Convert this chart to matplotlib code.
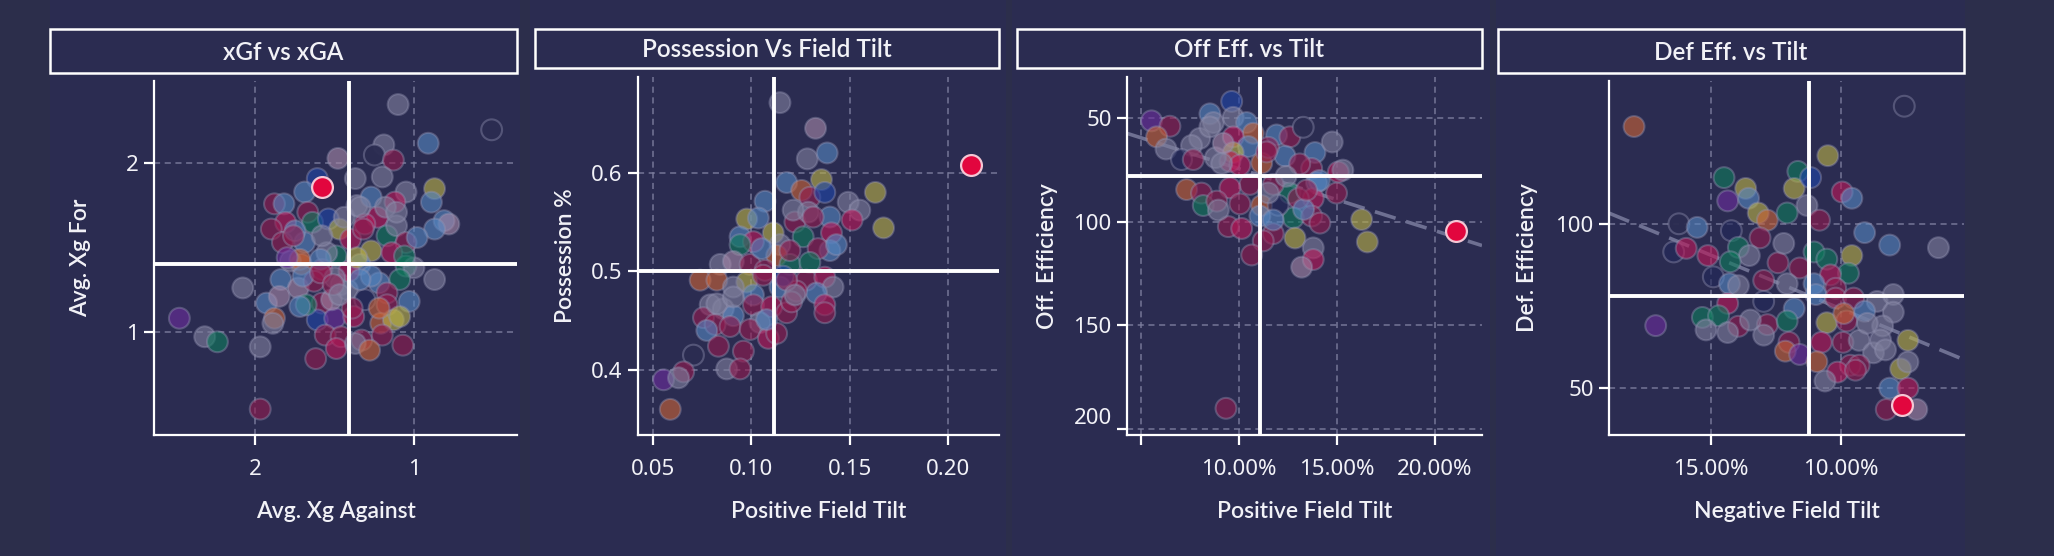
import matplotlib
matplotlib.use("Agg")
import matplotlib.pyplot as plt
from matplotlib.patches import Rectangle
from matplotlib.colors import to_rgba
import numpy as np

plt.rcParams['font.family'] = ['Noto Sans', 'DejaVu Sans']
BOLD_FAMILY = ['Lato', 'Open Sans', 'Noto Sans', 'DejaVu Sans']

# ---------------- data ----------------
titles = ["xGf vs xGA", "Possession Vs Field Tilt", "Off Eff. vs Tilt", "Def Eff. vs Tilt"]
xlabels = ["Avg. Xg Against", "Positive Field Tilt", "Positive Field Tilt", "Negative Field Tilt"]
ylabels = ["Avg. Xg For", "Possession %", "Off. Efficiency", "Def. Efficiency"]

p1_xga = [1.10, 0.51, 0.91, 1.48, 1.19, 1.25, 1.13, 1.61, 1.37, 1.20, 0.87, 1.05, 1.12, 0.89, 0.81, 0.78, 0.87,
          1.88, 1.82, 1.69, 1.67, 1.81, 1.90, 1.64, 1.54, 1.47, 1.40, 1.36, 1.27, 1.23, 1.17, 1.11, 1.05, 0.98,
          1.27, 1.14, 1.83, 1.69, 1.49, 1.71, 1.58, 1.34, 1.05, 1.00, 0.87, 1.09, 1.84, 2.08, 1.73, 1.46, 1.42,
          1.22, 1.17, 1.31, 1.03, 1.93, 1.58, 1.17, 1.88, 1.89, 1.61, 1.50, 1.38, 1.21, 1.13, 1.56, 1.46, 1.33,
          1.20, 1.07, 1.49, 1.37, 1.28, 1.62, 2.48, 2.32, 2.24, 1.97, 1.97,
          1.55, 1.41, 1.50, 1.63, 1.27, 1.36, 1.78, 1.52, 1.39, 1.68, 1.22, 1.44, 1.31, 1.18, 1.75,
          1.76, 1.58, 1.72, 1.80, 1.59, 1.11, 1.34, 1.06, 1.32, 1.70, 1.59, 1.51, 1.85, 1.72, 1.47, 1.09, 1.34]
p1_xgf = [2.35, 2.20, 2.12, 2.03, 2.11, 2.05, 2.02, 1.91, 1.91, 1.92, 1.85, 1.83, 1.77, 1.77, 1.66, 1.64, 1.61,
          1.76, 1.76, 1.83, 1.71, 1.65, 1.61, 1.65, 1.67, 1.61, 1.55, 1.75, 1.80, 1.68, 1.57, 1.63, 1.53, 1.56,
          1.48, 1.47, 1.53, 1.53, 1.45, 1.40, 1.37, 1.40, 1.39, 1.38, 1.31, 1.31, 1.31, 1.26, 1.26, 1.28, 1.25,
          1.29, 1.23, 1.19, 1.18, 1.17, 1.17, 1.16, 1.08, 1.05, 1.07, 1.08, 1.09, 1.05, 1.07, 0.98, 0.97, 0.95,
          0.98, 0.92, 0.90, 0.93, 0.89, 0.84, 1.08, 0.97, 0.94, 0.91, 0.54,
          1.47, 1.36, 1.32, 1.30, 1.33, 1.44, 1.42, 1.19, 1.14, 1.16, 1.14, 1.68, 1.64, 1.74, 1.60,
          1.57, 1.57, 1.43, 1.44, 1.43, 1.71, 1.74, 1.45, 1.61, 1.33, 1.35, 1.28, 1.21, 1.15, 1.22, 1.09, 1.31]
p1_team = list("AHBKAHMDAAYARBBKB" "MBBMRMGDYRABRGAMB" "YRMBGORBGAAGBAKAA" "BMNBBMMOADPROYMMM"
               "MMRAOMPAGAM" "ARAMBYAKMGOARAB" "MAOPBAAGMBMMKBAYB")
p1_hl = (1.58, 1.86)
p1_mean = (1.41, 1.40)

p2_tilt = [0.1146, 0.1327, 0.1285, 0.1386, 0.1357, 0.1180, 0.1256, 0.1298, 0.1374, 0.1070, 0.1631, 0.1493,
           0.1552, 0.1513, 0.1673, 0.0977, 0.1036, 0.0943, 0.1011, 0.0943, 0.1112, 0.1222, 0.1264, 0.1400,
           0.1408, 0.1400, 0.1340, 0.1146, 0.1129, 0.0842, 0.0909, 0.0994, 0.1070, 0.1197, 0.1298, 0.0740,
           0.0825, 0.0977, 0.1061, 0.1146, 0.1280, 0.1374, 0.1416, 0.1332, 0.1230, 0.0909, 0.1011, 0.0791,
           0.0858, 0.1011, 0.1104, 0.1180, 0.1374, 0.1374, 0.0757, 0.0909, 0.1044, 0.0816, 0.0892, 0.0994,
           0.0774, 0.1087, 0.1129, 0.0833, 0.0960, 0.0706, 0.0875, 0.0943, 0.0656, 0.0554, 0.0630, 0.0588,
           0.1078, 0.1163, 0.1205, 0.1290, 0.1433,
           0.1053, 0.1213, 0.1315, 0.1197, 0.0825, 0.0909, 0.1180, 0.1222]
p2_poss = [0.671, 0.645, 0.614, 0.620, 0.593, 0.590, 0.582, 0.575, 0.580, 0.571, 0.580, 0.570,
           0.562, 0.552, 0.544, 0.553, 0.554, 0.535, 0.530, 0.527, 0.539, 0.550, 0.535, 0.555,
           0.539, 0.521, 0.523, 0.527, 0.516, 0.507, 0.510, 0.507, 0.501, 0.507, 0.509, 0.491,
           0.491, 0.489, 0.496, 0.484, 0.491, 0.494, 0.484, 0.478, 0.480, 0.484, 0.476, 0.466,
           0.462, 0.466, 0.464, 0.458, 0.466, 0.458, 0.453, 0.455, 0.448, 0.446, 0.444, 0.441,
           0.440, 0.432, 0.437, 0.424, 0.419, 0.415, 0.401, 0.401, 0.398, 0.390, 0.392, 0.360,
           0.451, 0.495, 0.469, 0.560, 0.527,
           0.523, 0.562, 0.555, 0.521, 0.467, 0.474, 0.491, 0.476]
p2_team = list("AKABYBOMDBYA" "ARYYBBRGYMGB" "RBMAOAKMMGGO" "OYMBMRABMABA" "AMRMRMMBAMMM"
               "BRMMMHAMMPAO" "BDMAB" "BAMMAAMA")
p2_hl = (0.2118, 0.608)
p2_mean = (0.1117, 0.500)

p3_tilt = [0.0963, 0.0554, 0.0648, 0.0580, 0.0628, 0.0852, 0.0870, 0.0971, 0.1039, 0.1073, 0.0971, 0.0800,
           0.0758, 0.1048, 0.0971, 0.0707, 0.0767, 0.0954, 0.1116, 0.1192, 0.1260, 0.1328, 0.1235, 0.1388,
           0.1476, 0.1371, 0.1507, 0.1530, 0.1396, 0.1498, 0.1260, 0.1379, 0.1303, 0.1175, 0.1056, 0.0954,
           0.0733, 0.0809, 0.0818, 0.1005, 0.1116, 0.0887, 0.1107, 0.1277, 0.1371, 0.1413, 0.1626, 0.1655,
           0.0946, 0.1014, 0.1175, 0.1124, 0.1286, 0.1379, 0.1379, 0.1320, 0.1065, 0.0934, 0.1200, 0.1150,
           0.1310, 0.1410, 0.1240, 0.1330, 0.0880, 0.0920, 0.1150,
           0.0852, 0.1005, 0.0912, 0.1141, 0.0895, 0.1345, 0.1175]
p3_eff = [41.8, 51.2, 53.8, 58.9, 64.8, 47.8, 52.0, 49.5, 52.0, 57.2, 58.9, 59.7,
          63.1, 63.6, 66.5, 69.9, 69.9, 70.8, 71.6, 58.0, 58.9, 54.3, 68.2, 66.5,
          61.4, 74.2, 75.9, 75.0, 81.0, 86.1, 86.1, 88.7, 88.7, 81.9, 81.9, 83.6,
          84.4, 86.1, 92.1, 91.3, 92.1, 90.0, 97.2, 98.1, 97.2, 100.6, 98.9, 109.7,
          102.3, 103.2, 105.7, 109.2, 107.8, 112.6, 118.2, 121.9, 116.0, 190.1, 92.0, 86.0,
          72.0, 80.0, 78.0, 94.0, 69.0, 62.0, 64.0,
          54.1, 72.6, 71.8, 66.2, 94.3, 84.7, 99.1]
p3_team = list("DPMOABAABORA" "ABYNMROBMHBB" "AMRABMGRMMMR" "OMGMOMBGMMYY" "MRMMYARKMMNA"
               "MBABAKM" "ARAMAMB")
p3_hl = (0.2105, 104.6)
p3_mean = (0.1107, 77.7)
p3_trend = (44.4, 299.3)   # intercept, slope

p4_tilt = [0.1794, 0.0758, 0.1051, 0.1449, 0.1366, 0.1435, 0.1355, 0.1166, 0.1180, 0.1117, 0.1131, 0.0996,
           0.0959, 0.1622, 0.1552, 0.1642, 0.1594, 0.1511, 0.1490, 0.1421, 0.1318, 0.1283, 0.1207, 0.1083,
           0.0910, 0.0814, 0.0627, 0.1311, 0.1394, 0.1352, 0.1242, 0.1159, 0.1104, 0.1055, 0.0959, 0.0972,
           0.1041, 0.1428, 0.1394, 0.1297, 0.1207, 0.1104, 0.1021, 0.1435, 0.1297, 0.1180, 0.1097, 0.1021,
           0.0952, 0.0862, 0.0800, 0.0800, 0.1532, 0.1470, 0.1394, 0.1518, 0.1711, 0.1435, 0.1283, 0.1207,
           0.1055, 0.0979, 0.0910, 0.0841, 0.1297, 0.1200, 0.1076, 0.0993, 0.0931, 0.0744, 0.1214, 0.1159,
           0.0876, 0.0772, 0.1093, 0.0965, 0.0931, 0.1014, 0.1062, 0.0945, 0.0814, 0.0744, 0.0827, 0.0710,
           0.0744,
           0.1425, 0.1220, 0.1348, 0.0990, 0.0900, 0.0849, 0.0830]
p4_eff = [129.9, 136.1, 121.0, 114.3, 111.0, 107.2, 108.0, 116.2, 111.0, 114.3, 105.8, 109.9,
          108.0, 100.2, 99.1, 91.6, 92.7, 90.5, 84.0, 98.1, 103.5, 101.3, 103.5, 101.3,
          97.5, 93.7, 92.9, 95.9, 93.0, 90.5, 88.3, 86.7, 91.6, 89.4, 90.5, 85.1,
          84.6, 81.9, 81.3, 82.9, 81.9, 81.9, 80.5, 75.9, 76.5, 74.3, 78.6, 77.5,
          77.5, 76.5, 78.6, 73.2, 71.6, 72.1, 68.9, 67.8, 69.1, 67.0, 69.4, 70.5,
          70.0, 70.5, 73.5, 69.0, 66.2, 64.0, 64.0, 64.0, 64.6, 64.6, 61.3, 60.3,
          60.8, 55.9, 58.1, 57.0, 57.0, 54.9, 52.2, 55.5, 50.0, 50.0, 43.5, 43.5,
          58.0,
          88.6, 94.2, 70.8, 72.8, 69.8, 64.7, 61.7]
p4_team = list("OHYGYPBGYDAR" "BHBNRRNNYOGM" "BBAMGAMMGGYG" "RBAMABMRNBBM" "MAAAGGMAPAMG"
               "YMBAAMRMAYOP" "AYOMMRAMBRMK" "A" "GAAOAAA")
p4_hl = (0.0765, 44.8)
p4_mean = (0.1124, 78.2)
p4_trend = (41.3, 328.9)

palette = {
    'M': '#921b4f', 'R': '#bb1758', 'B': '#5585c0', 'D': '#1f45a8', 'G': '#0e7a5c',
    'Y': '#b8b046', 'O': '#c86236', 'A': '#7e7e9c', 'P': '#6b2c9c', 'K': '#a486a6',
    'N': '#22285a', 'H': '#2b2c51',
}

# ---------------- layout ----------------
W, H = 2054, 556
FIG_BG = '#2c2e4b'
PANEL_BG = '#2b2c51'
TXT = '#f2f2f7'
GRID = '#7c7e9e'

fig = plt.figure(figsize=(W / 100, H / 100), dpi=100)
fig.patch.set_facecolor(FIG_BG)

def fx(px):
    return px / W

def fy(py):
    return 1 - py / H

# panel backgrounds
for (l, r) in [(50, 520), (530, 1006), (1012, 1490), (1496, 1965)]:
    fig.patches.append(Rectangle((fx(l), 0), fx(r - l), 1, transform=fig.transFigure,
                                 facecolor=PANEL_BG, edgecolor='none', zorder=-5))

axes_px = [(154, 517, 81, 435), (638, 999, 77, 435), (1127, 1482, 77, 435), (1609, 1964, 81, 435)]
title_px = [(50, 517, 29, 73), (535, 999, 29, 68), (1017, 1482, 29, 68), (1498, 1964, 29, 73)]
ylabel_x = [81, 565, 1047, 1528]

axes = []
for (l, r, t, b) in axes_px:
    ax = fig.add_axes([fx(l), fy(b), fx(r - l), (b - t) / H])
    ax.set_facecolor('none')
    axes.append(ax)

for i, (l, r, t, b) in enumerate(title_px):
    fig.patches.append(Rectangle((fx(l), fy(b)), fx(r - l), (b - t) / H, transform=fig.transFigure,
                                 facecolor='none', edgecolor='white', linewidth=1.8, zorder=5))
    fig.text(fx((l + r) / 2), fy((t + b) / 2 + 1), titles[i], ha='center', va='center',
             color=TXT, fontsize=17.5, fontweight='semibold', family=BOLD_FAMILY)

for i, (l, r, t, b) in enumerate(axes_px):
    fig.text(fx((l + r) / 2), fy(512), xlabels[i], ha='center', va='center', color=TXT,
             fontsize=16.5, fontweight='semibold', family=BOLD_FAMILY)
    fig.text(fx(ylabel_x[i]), fy((t + b) / 2), ylabels[i], ha='center', va='center', color=TXT,
             fontsize=16.5, fontweight='semibold', rotation=90, family=BOLD_FAMILY)


def style(ax):
    for s in ['top', 'right']:
        ax.spines[s].set_visible(False)
    for s in ['left', 'bottom']:
        ax.spines[s].set_color('white')
        ax.spines[s].set_linewidth(1.6)
        ax.spines[s].set_zorder(6)
    ax.tick_params(axis='y', colors='white', labelcolor=TXT, labelsize=16, length=7, width=1.6, pad=4)
    ax.tick_params(axis='x', colors='white', labelcolor=TXT, labelsize=16, length=7, width=1.6, pad=10)
    ax.grid(True, color=GRID, linestyle=(0, (4, 3)), linewidth=1.1, alpha=0.9, zorder=0)
    ax.set_axisbelow(True)


EDGE = (0.58, 0.58, 0.70, 0.40)

def scatter(ax, xs, ys, teams, hl, mean, trend=None):
    faces = [to_rgba(palette[t], 0.95 if t == 'H' else 0.62) for t in teams]
    ax.scatter(xs, ys, s=225, c=faces, edgecolors=[EDGE] * len(teams), linewidths=1.5, zorder=3)
    if trend is not None:
        xx = np.array(ax.get_xlim())
        ax.plot(xx, trend[0] + trend[1] * xx, color='#6e7092', lw=2.6, ls=(0, (6, 3)), zorder=2)
    ax.axvline(mean[0], color='white', lw=2.8, zorder=5)
    ax.axhline(mean[1], color='white', lw=2.8, zorder=5)
    ax.scatter([hl[0]], [hl[1]], s=225, c='#e2063e', edgecolors='#f4c6d4', linewidths=1.6, zorder=7)


# Panel 1
ax = axes[0]
style(ax)
ax.set_xlim(2.64, 0.35)
ax.set_ylim(0.386, 2.49)
ax.set_xticks([2, 1])
ax.set_xticklabels(['2', '1'])
ax.set_yticks([1, 2])
ax.set_yticklabels(['1', '2'])
scatter(ax, p1_xga, p1_xgf, p1_team, p1_hl, p1_mean)

# Panel 2
ax = axes[1]
style(ax)
ax.set_xlim(0.0424, 0.226)
ax.set_ylim(0.334, 0.697)
ax.set_xticks([0.05, 0.10, 0.15, 0.20])
ax.set_xticklabels(['0.05', '0.10', '0.15', '0.20'])
ax.set_yticks([0.4, 0.5, 0.6])
ax.set_yticklabels(['0.4', '0.5', '0.6'])
scatter(ax, p2_tilt, p2_poss, p2_team, p2_hl, p2_mean)

# Panel 3
ax = axes[2]
style(ax)
ax.set_xlim(0.0429, 0.224)
ax.set_ylim(203, 30)
ax.set_xticks([0.05, 0.10, 0.15, 0.20])
ax.set_xticklabels(['', '10.00%', '15.00%', '20.00%'])
ax.set_yticks([50, 100, 150, 200])
ax.set_yticklabels(['50', '100', '150', '200'])
ax.get_yticklabels()[-1].set_va('bottom')
scatter(ax, p3_tilt, p3_eff, p3_team, p3_hl, p3_mean, p3_trend)

# Panel 4
ax = axes[3]
style(ax)
ax.set_xlim(0.189, 0.0529)
ax.set_ylim(35.7, 143.8)
ax.set_xticks([0.15, 0.10])
ax.set_xticklabels(['15.00%', '10.00%'])
ax.set_yticks([50, 100])
ax.set_yticklabels(['50', '100'])
scatter(ax, p4_tilt, p4_eff, p4_team, p4_hl, p4_mean, p4_trend)

fig.savefig('out.png', dpi=100, facecolor=FIG_BG)
